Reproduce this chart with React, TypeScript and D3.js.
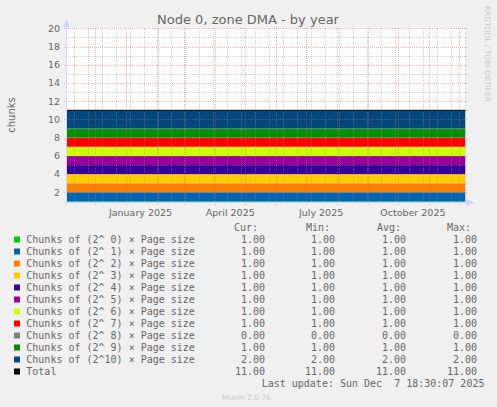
import React from "react";
import * as d3 from "d3";

// munin "buddyinfo" style graph, yearly view
const title = "Node 0, zone DMA - by year";
const yLabel = "chunks";

const seriesLabels = [
    "Chunks of (2^ 0) × Page size",
    "Chunks of (2^ 1) × Page size",
    "Chunks of (2^ 2) × Page size",
    "Chunks of (2^ 3) × Page size",
    "Chunks of (2^ 4) × Page size",
    "Chunks of (2^ 5) × Page size",
    "Chunks of (2^ 6) × Page size",
    "Chunks of (2^ 7) × Page size",
    "Chunks of (2^ 8) × Page size",
    "Chunks of (2^ 9) × Page size",
    "Chunks of (2^10) × Page size",
];
const seriesColors = [
    "#00CC00", "#0066B3", "#FF8000", "#FFCC00", "#330099", "#990099",
    "#CCFF00", "#FF0000", "#808080", "#008F00", "#00487D",
];

// first and last sample of the year window
const sampleDates = [new Date(2024, 10, 2, 18, 30, 7), new Date(2025, 11, 7, 18, 30, 7)];
// one value per sample date, per series
const seriesValues = [
    [1, 1], [1, 1], [1, 1], [1, 1], [1, 1], [1, 1],
    [1, 1], [1, 1], [0, 0], [1, 1], [2, 2],
];

const curValues = [1, 1, 1, 1, 1, 1, 1, 1, 0, 1, 2];
const minValues = [1, 1, 1, 1, 1, 1, 1, 1, 0, 1, 2];
const avgValues = [1, 1, 1, 1, 1, 1, 1, 1, 0, 1, 2];
const maxValues = [1, 1, 1, 1, 1, 1, 1, 1, 0, 1, 2];
const totalValues = { cur: 11, min: 11, avg: 11, max: 11 };

const yTicks = [2, 4, 6, 8, 10, 12, 14, 16, 18, 20];
const yMinorTicks = [1, 3, 5, 7, 9, 11, 13, 15, 17, 19];
const labelMonths = [new Date(2025, 0, 1), new Date(2025, 3, 1), new Date(2025, 6, 1), new Date(2025, 9, 1)];

const lastUpdate = "Last update: Sun Dec  7 18:30:07 2025";
const version = "Munin 2.0.76";
const watermark = "RRDTOOL / TOBI OETIKER";

const W = 497;
const H = 407;
const FONT = "#666666";
const AXIS = "#CFD6F8";
const GRID = "rgba(150,150,150,0.45)";
const MGRID = "rgba(225,90,90,0.45)";
const sans = "DejaVu Sans, sans-serif";
const mono = "DejaVu Sans Mono, monospace";

export default function App() {
    const left = 66.5;
    const right = 465.5;
    const top = 28.3;
    const bottom = 202.3;

    const x = d3.scaleTime().domain([sampleDates[0], sampleDates[1]]).range([left, right]);
    const y = d3.scaleLinear().domain([0.9, 20]).range([bottom, top]);

    const rows = sampleDates.map((d, j) => {
        const row: any = { date: d };
        seriesValues.forEach((vals, i) => (row["s" + i] = vals[j]));
        return row;
    });
    const keys = seriesValues.map((_, i) => "s" + i);
    const stacked = d3.stack().keys(keys)(rows);

    const area = d3
        .area<any>()
        .x((d) => x(d.data.date))
        .y0((d) => y(d[0]))
        .y1((d) => y(d[1]));

    const totalLine = d3
        .line<any>()
        .x((d) => x(d.date))
        .y((d) => y(keys.reduce((s, k) => s + d[k], 0)));

    const px = (v: number) => Math.round(v) + 0.5;

    const majorMonths = d3.timeMonth.range(sampleDates[0], sampleDates[1]);
    const minorWeeks = d3.timeSunday.range(new Date(2024, 10, 10), sampleDates[1], 2);
    const fmt = d3.format(".2f");
    const monthFmt = d3.timeFormat("%B %Y");

    const rowY = (i: number) => 239.5 + 12 * i;
    const pre = { whiteSpace: "pre" as const };

    return (
        <svg width={W} height={H} style={{ position: "absolute", left: 0, top: 0, background: "#F0F0F0" }}>
            <defs>
                <clipPath id="plot">
                    <rect x={left} y={top} width={right - left} height={bottom - top} />
                </clipPath>
            </defs>
            <rect x={left} y={top} width={right - left} height={bottom - top} fill="#FFFFFF" />

            <g clipPath="url(#plot)">
                {stacked.map((s, i) => (
                    <path key={i} d={area(s) || ""} fill={seriesColors[i]} />
                ))}
            </g>

            {/* grid on top of data, like rrdtool */}
            <g strokeWidth={1} strokeDasharray="1,1" fill="none" shapeRendering="crispEdges">
                {minorWeeks.map((d, i) => (
                    <line key={"wv" + i} x1={px(x(d))} x2={px(x(d))} y1={top} y2={bottom + 2} stroke={GRID} />
                ))}
                {yMinorTicks.map((v) => (
                    <line key={"mh" + v} x1={left - 1} x2={right + 1} y1={px(y(v))} y2={px(y(v))} stroke={GRID} />
                ))}
                {majorMonths.map((d, i) => (
                    <line key={"mv" + i} x1={px(x(d))} x2={px(x(d))} y1={top} y2={bottom + 3} stroke={MGRID} />
                ))}
                {yTicks.map((v) => (
                    <line key={"Mh" + v} x1={left - 3} x2={right + 2} y1={px(y(v))} y2={px(y(v))} stroke={MGRID} />
                ))}
            </g>

            <path d={totalLine(rows) || ""} stroke="#000000" strokeWidth={1} fill="none" />

            {/* axes with arrows */}
            <g shapeRendering="crispEdges">
                <line x1={left - 3} x2={right + 2} y1={bottom + 0.5} y2={bottom + 0.5} stroke={AXIS} />
                <line x1={left} x2={left} y1={bottom + 3} y2={top - 3} stroke={AXIS} />
            </g>
            <path d={`M${right + 1},${bottom - 3} L${right + 9},${bottom + 0.5} L${right + 1},${bottom + 4} Z`} fill={AXIS} />
            <path d={`M${left - 3.5},${top - 1} L${left},${top - 9} L${left + 3.5},${top - 1} Z`} fill={AXIS} />

            <text x={248} y={24} textAnchor="middle" fontFamily={sans} fontSize={13} fill={FONT}>
                {title}
            </text>
            <text transform="translate(15,115) rotate(-90)" textAnchor="middle" fontFamily={sans} fontSize={10} fill={FONT}>
                {yLabel}
            </text>
            <text transform="translate(485,54) rotate(90)" textAnchor="middle" fontFamily={sans} fontSize={7.5} fill="#CCCCCC">
                {watermark}
            </text>

            {yTicks.map((v) => (
                <text key={v} x={60} y={y(v) + 3.4} textAnchor="end" fontFamily={sans} fontSize={9.5} fill={FONT}>
                    {v}
                </text>
            ))}
            {labelMonths.map((m, i) => (
                <text key={i} x={x(d3.timeDay.offset(m, 15))} y={216} textAnchor="middle" fontFamily={sans} fontSize={9.5} fill={FONT}>
                    {monthFmt(m)}
                </text>
            ))}

            {/* legend */}
            <g fontFamily={mono} fontSize={10} fill={FONT}>
                <text x={234} y={231}>Cur:</text>
                <text x={306} y={231}>Min:</text>
                <text x={377} y={231}>Avg:</text>
                <text x={447} y={231}>Max:</text>
                {seriesLabels.map((label, i) => (
                    <g key={i}>
                        <rect x={14} y={rowY(i) - 3} width={6} height={6} fill={seriesColors[i]} />
                        <text x={26.3} y={rowY(i) + 3.5}>{label}</text>
                        <text x={265} y={rowY(i) + 3.5} textAnchor="end">{fmt(curValues[i])}</text>
                        <text x={335} y={rowY(i) + 3.5} textAnchor="end">{fmt(minValues[i])}</text>
                        <text x={406} y={rowY(i) + 3.5} textAnchor="end">{fmt(avgValues[i])}</text>
                        <text x={477} y={rowY(i) + 3.5} textAnchor="end">{fmt(maxValues[i])}</text>
                    </g>
                ))}
                <rect x={14} y={rowY(11) - 3} width={6} height={6} fill="#000000" />
                <text x={26.3} y={rowY(11) + 3.5}>Total</text>
                <text x={265} y={rowY(11) + 3.5} textAnchor="end">{fmt(totalValues.cur)}</text>
                <text x={335} y={rowY(11) + 3.5} textAnchor="end">{fmt(totalValues.min)}</text>
                <text x={406} y={rowY(11) + 3.5} textAnchor="end">{fmt(totalValues.avg)}</text>
                <text x={477} y={rowY(11) + 3.5} textAnchor="end">{fmt(totalValues.max)}</text>
                <text x={261.7} y={rowY(12) + 3.5} style={pre}>{lastUpdate}</text>
            </g>
            <text x={222} y={399.5} fontFamily={sans} fontSize={7.5} fill="#CCCCCC">
                {version}
            </text>
        </svg>
    );
}
